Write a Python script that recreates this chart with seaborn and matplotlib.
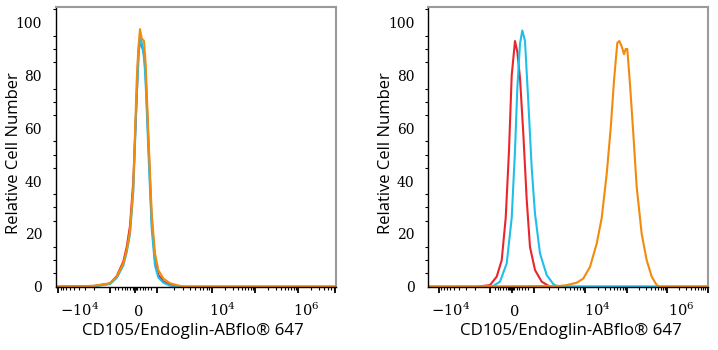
import numpy as np
import pandas as pd
import matplotlib
matplotlib.use("Agg")
import matplotlib.pyplot as plt
import seaborn as sns

# ---------------- data (x in display channels 0-280, y = relative cell number) -------------
# Left panel
L_red_x = [0, 38, 54, 60.7, 67.3, 70.7, 74, 77.3, 80.7, 82.3, 84, 86, 88, 89.7, 92.3, 95.7, 99, 102.3, 107.3, 114, 120, 127, 280]
L_red_y = [0, 0.3, 1.2, 4, 9.5, 15, 23, 40, 72, 88, 93, 91, 88, 80, 56, 25, 10, 4.5, 2, 0.8, 0.2, 0, 0]
L_blue_x = [0, 40, 54, 60.7, 67.3, 70.7, 74, 77.3, 80.7, 83, 84.7, 86.5, 88.5, 90, 92.3, 95.7, 99, 102.3, 107.3, 114, 120, 280]
L_blue_y = [0, 0.2, 1.0, 3.3, 8, 13, 20, 36, 72, 90, 94, 91, 85, 74, 52, 22, 8, 3.5, 1.5, 0.4, 0, 0]
L_orange_x = [0, 37.3, 54, 60.7, 67.3, 70.7, 74, 77.3, 80.7, 82.3, 84, 85.7, 88, 89.7, 92.3, 95.7, 99, 102.3, 107.3, 114, 120.7, 127.3, 280]
L_orange_y = [0, 0.3, 1.3, 3.8, 8.8, 13.8, 21, 37.7, 78, 90, 97.5, 94, 93, 84, 58, 27.6, 12.6, 6.3, 3.1, 1.3, 0.6, 0, 0]

# Right panel
R_red_x = [0, 48.4, 61.7, 68.4, 73.4, 77.4, 80.7, 83.4, 86.7, 89, 91.7, 95, 98.4, 101.7, 106.7, 113.4, 121.7, 280]
R_red_y = [0, 0, 0.6, 3.8, 10, 26, 51.5, 80, 93, 89, 79, 58, 33, 15, 6.3, 1.9, 0, 0]
R_blue_x = [0, 48.4, 65, 71.7, 78.4, 83.4, 86.7, 89, 91.7, 94, 96.7, 100, 103.4, 106.7, 111.7, 118.4, 125, 130, 280]
R_blue_y = [0, 0, 0.3, 1.9, 8.8, 26, 51.5, 75, 92, 97, 93, 70, 45, 27.6, 12.6, 4.4, 1, 0, 0]
R_orange_x = [0, 131.7, 138.4, 148.4, 155, 161.7, 168.4, 173.4, 178.4, 182.4, 185.7, 189, 191, 193.4, 195.7,
              197.4, 199, 201.7, 205, 208.4, 213.4, 218.4, 223.4, 228.4, 231.7, 280]
R_orange_y = [0, 0.3, 0.6, 1.5, 3.1, 7.5, 16.3, 26, 42.7, 60, 78, 92.3, 93, 91, 88,
              90, 90, 76.6, 58, 37.7, 20, 10, 3.8, 0.6, 0, 0]

series = ["Isotype", "Unstained", "CD105"]
colors = {"Isotype": "#e8262b", "Unstained": "#1fbfea", "CD105": "#f28a0c"}

tick_labels = [r"$-10^{4}$", r"$0$", r"$10^{4}$", r"$10^{6}$"]
xlabel = "CD105/Endoglin-ABflo® 647"
ylabel = "Relative Cell Number"

# ---------------- axis layout (display channels) ----------------
L_major = [2.3, 54, 79, 101, 156, 199, 242, 279]
R_major = [10.7, 61.7, 83.4, 105.7, 156.7, 198.4, 238.4, 280]
L_label_pos = [24, 82.3, 166.5, 249.8]
R_label_pos = [22, 86, 169, 253.4]
L_zero_minor = [59, 62.3, 65.7, 69, 71.3, 74, 76.7, 77.6, 78.4, 79.6, 80.5, 81.3, 84, 86.7, 89, 91.7, 95]
R_zero_minor = [66.7, 69.4, 72, 74.7, 77.4, 80, 81, 82, 83, 84, 85, 86, 88.4, 91, 94, 96.7, 100]


def minor_positions(major, zero_minor):
    pos = list(zero_minor)
    k = np.log10(np.arange(2, 10))
    a, b = major[0], major[1]
    pos += list(b - (b - a) * k)
    for a, b in [(major[3], major[4]), (major[4], major[5]), (major[5], major[6])]:
        pos += list(a + (b - a) * k)
    a, b = major[6], major[6] + (major[6] - major[5])
    pos += [p for p in (a + (b - a) * k) if p < 280]
    return pos


def build_df(xs, ys):
    frames = []
    for name, x, y in zip(series, xs, ys):
        frames.append(pd.DataFrame({"x": x, "y": y, "s": name}))
    return pd.concat(frames, ignore_index=True)


sns.set_style("white")
plt.rcParams["mathtext.fontset"] = "dejavuserif"
plt.rcParams["font.family"] = ["DejaVu Sans"]
plt.rcParams["text.color"] = "black"
plt.rcParams["axes.labelcolor"] = "black"

fig = plt.figure(figsize=(7.18, 3.5), dpi=100)
W, H = 718, 350
axL = fig.add_axes([56 / W, (350 - 287.3) / H, 280 / W, 280.6 / H])
axR = fig.add_axes([428.3 / W, (350 - 287.3) / H, 280 / W, 280.6 / H])

panels = [
    (axL, build_df([L_red_x, L_blue_x, L_orange_x], [L_red_y, L_blue_y, L_orange_y]), L_major, L_label_pos, L_zero_minor, 0.489),
    (axR, build_df([R_red_x, R_blue_x, R_orange_x], [R_red_y, R_blue_y, R_orange_y]), R_major, R_label_pos, R_zero_minor, 0.509),
]

for ax, df, major, lab_pos, zminor, xlab_x in panels:
    sns.lineplot(data=df, x="x", y="y", hue="s", palette=colors, hue_order=series,
                 estimator=None, sort=False, linewidth=1.5, legend=False, ax=ax)
    ax.set_xlim(0, 280)
    ax.set_ylim(-0.23, 106)

    # y axis
    ax.set_yticks([0, 20, 40, 60, 80, 100])
    ax.set_yticks(np.arange(5, 106, 5), minor=True)
    ax.set_yticklabels(["0", "20", "40", "60", "80", "100"], fontfamily="DejaVu Serif", fontsize=10)
    ax.tick_params(axis="y", which="major", direction="out", length=5, width=1, color="black",
                   labelcolor="black", pad=5)
    ax.tick_params(axis="y", which="minor", direction="out", length=2.5, width=0.8, color="black", left=True)

    # x axis marks
    ax.set_xticks(major)
    ax.set_xticklabels([""] * len(major))
    ax.set_xticks(minor_positions(major, zminor), minor=True)
    ax.tick_params(axis="x", which="major", direction="out", length=4.5, width=1.3, color="black", bottom=True)
    ax.tick_params(axis="x", which="minor", direction="out", length=2.2, width=0.8, color="black", bottom=True)

    # x axis tick labels
    sec = ax.secondary_xaxis("bottom")
    sec.set_xticks(lab_pos)
    sec.set_xticklabels(tick_labels, fontsize=10.5)
    sec.tick_params(length=0, pad=21, labelcolor="black")
    for lbl in sec.get_xticklabels():
        lbl.set_verticalalignment("baseline")
    sec.spines["bottom"].set_visible(False)

    ax.set_xlabel(xlabel, fontfamily="Open Sans", fontsize=12.2)
    ax.xaxis.set_label_coords(xlab_x, -0.128)
    ax.set_ylabel(ylabel, fontfamily="Open Sans", fontsize=12)
    ax.yaxis.set_label_coords(-0.123, 0.4786)

    for side in ["left", "bottom"]:
        ax.spines[side].set_color("black")
        ax.spines[side].set_linewidth(1.0)
    for side in ["top", "right"]:
        ax.spines[side].set_color("#9a9a9a")
        ax.spines[side].set_linewidth(1.5)

fig.savefig("out.png", dpi=100)
